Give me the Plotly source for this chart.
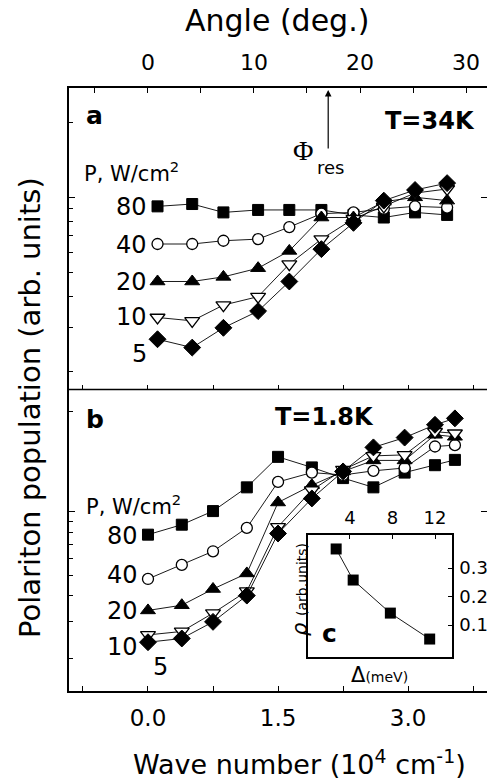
import plotly.graph_objects as go

# ---------------- data ----------------
# panel a (T=34K): wave number (1e4 cm^-1) and populations (arb. units)
k_a = [0.11, 0.51, 0.87, 1.27, 1.63, 2.00, 2.37, 2.72, 3.08, 3.45]
a_80 = [0.92, 0.94, 0.87, 0.89, 0.89, 0.89, 0.85, 0.83, 0.87, 0.85]
a_40 = [0.65, 0.65, 0.67, 0.68, 0.76, 0.86, 0.87, 0.90, 0.92, 0.91]
a_20 = [0.46, 0.46, 0.48, 0.52, 0.61, 0.83, 0.83, 0.96, 1.00, 0.97]
a_10 = [0.33, 0.32, 0.37, 0.40, 0.54, 0.68, 0.82, 0.92, 1.04, 1.08]
a_5 = [0.27, 0.25, 0.30, 0.35, 0.46, 0.62, 0.79, 0.97, 1.07, 1.14]

# panel b (T=1.8K)
k_b = [0.0, 0.39, 0.75, 1.14, 1.50, 1.89, 2.25, 2.60, 2.96, 3.31, 3.54]
b_80 = [0.78, 0.87, 1.01, 1.31, 1.83, 1.63, 1.45, 1.31, 1.54, 1.67, 1.77]
b_40 = [0.48, 0.56, 0.65, 0.84, 1.39, 1.54, 1.50, 1.57, 1.62, 2.05, 2.08]
b_20 = [0.34, 0.36, 0.43, 0.51, 1.11, 1.34, 1.56, 1.76, 1.76, 2.33, 2.28]
b_10 = [0.26, 0.27, 0.33, 0.42, 0.85, 1.27, 1.59, 1.85, 1.87, 2.41, 2.37]
b_5 = [0.24, 0.25, 0.30, 0.40, 0.79, 1.16, 1.56, 2.03, 2.26, 2.60, 2.79]

power_labels = ["80", "40", "20", "10", "5"]

# inset c
delta = [2.7, 4.3, 7.8, 11.5]
rho = [0.367, 0.258, 0.142, 0.051]

x_ticks = [0.0, 1.5, 3.0]
x_ticktext = ["0.0", "1.5", "3.0"]
x_minor = [-0.75, 0.75, 2.25, 3.75]
angle_ticks = [0, 10, 20, 30]
angle_minor = [-5, 5, 15, 25]
phi_res_angle = 17
inset_xticks = [4, 8, 12]
inset_yticks = [0.1, 0.2, 0.3]

FONT = "DejaVu Sans"
W, H = 487, 783
L, R, T, B = 69, 0, 88, 92


def px(x):
    return (x - L) / (W - L - R)


def py(y):
    return (H - B - y) / (H - T - B)


split = py(389.5)

styles = [
    dict(symbol="square", size=11, color="black", line=dict(color="black", width=1)),
    dict(symbol="circle", size=11, color="white", line=dict(color="black", width=1.3)),
    dict(symbol="triangle-up", size=13, color="black", line=dict(color="black", width=1)),
    dict(symbol="triangle-down", size=13, color="white", line=dict(color="black", width=1.3)),
    dict(symbol="diamond", size=13, color="black", line=dict(color="black", width=1)),
]

fig = go.Figure()

for ys, st in zip([a_80, a_40, a_20, a_10, a_5], styles):
    fig.add_trace(go.Scatter(x=k_a, y=ys, mode="lines+markers", xaxis="x2", yaxis="y2",
                             line=dict(color="black", width=0.9), marker=st,
                             showlegend=False, cliponaxis=False))
for ys, st in zip([b_80, b_40, b_20, b_10, b_5], styles):
    fig.add_trace(go.Scatter(x=k_b, y=ys, mode="lines+markers", xaxis="x", yaxis="y",
                             line=dict(color="black", width=0.9), marker=st,
                             showlegend=False, cliponaxis=False))

fig.add_trace(go.Scatter(x=delta, y=rho, mode="lines+markers", xaxis="x4", yaxis="y4",
                         line=dict(color="black", width=0.9),
                         marker=dict(symbol="square", size=11, color="black"),
                         showlegend=False, cliponaxis=False))

# empty traces to create overlay subplots
fig.add_trace(go.Scatter(x=[], y=[], xaxis="x3", yaxis="y2", showlegend=False))
fig.add_trace(go.Scatter(x=[], y=[], xaxis="x", yaxis="y3", showlegend=False))
fig.add_trace(go.Scatter(x=[], y=[], xaxis="x2", yaxis="y5", showlegend=False))

k_range = [-0.911, 3.910]
common_x = dict(range=k_range, showgrid=False, zeroline=False, showline=True,
                linecolor="black", linewidth=1.5, ticks="inside", ticklen=5,
                tickwidth=1.2, tickcolor="black", tickvals=x_ticks,
                minor=dict(tickvals=x_minor, ticks="inside", ticklen=5,
                           tickwidth=1.2, tickcolor="black"))

ya_range = [-0.77, 0.438]
yb_range = [-0.852, 0.583]
common_y = dict(type="log", showgrid=False, zeroline=False, showline=True,
                linecolor="black", linewidth=1.5, ticks="inside", ticklen=6,
                tickwidth=1.2, tickcolor="black", tickvals=[1], showticklabels=False)

fig.update_layout(
    width=W, height=H,
    margin=dict(l=L, r=R, t=T, b=B, pad=0),
    paper_bgcolor="white", plot_bgcolor="white",
    font=dict(family=FONT, color="black"),
    xaxis=dict(common_x, domain=[0, 1], anchor="y", ticktext=x_ticktext,
               tickfont=dict(size=23), ticklabelstandoff=6),
    xaxis2=dict(common_x, domain=[0, 1], anchor="y2", matches="x", showline=False,
                showticklabels=False),
    xaxis3=dict(range=[-7.45, 31.98], overlaying="x2", anchor="y2", side="top",
                showgrid=False, zeroline=False, showline=True, linecolor="black",
                linewidth=1.5, ticks="inside", ticklen=5, tickwidth=1.2,
                tickcolor="black", tickvals=angle_ticks, tickfont=dict(size=22),
                ticklabelstandoff=7,
                minor=dict(tickvals=angle_minor, ticks="inside", ticklen=5,
                           tickwidth=1.2, tickcolor="black")),
    yaxis=dict(common_y, domain=[0, split], anchor="x", range=yb_range,
               minor=dict(tickvals=[0.2, 0.3, 0.4, 0.5, 0.6, 0.7, 0.8, 0.9, 3],
                          ticks="inside", ticklen=4, tickwidth=1.2, tickcolor="black")),
    yaxis2=dict(common_y, domain=[split, 1], anchor="x2", range=ya_range,
                minor=dict(tickvals=[0.2, 0.3, 0.4, 0.5, 0.6, 0.7, 0.8, 0.9, 2],
                           ticks="inside", ticklen=4, tickwidth=1.2, tickcolor="black")),
    yaxis3=dict(type="log", overlaying="y", anchor="x", side="right", range=yb_range,
                showline=False, showgrid=False, zeroline=False, ticks="inside",
                ticklen=6, tickwidth=1.2, tickcolor="black", tickvals=[1],
                showticklabels=False),
    yaxis5=dict(type="log", overlaying="y2", anchor="x2", side="right", range=ya_range,
                showline=False, showgrid=False, zeroline=False, ticks="inside",
                ticklen=6, tickwidth=1.2, tickcolor="black", tickvals=[1],
                showticklabels=False),
    xaxis4=dict(domain=[px(308), px(452)], anchor="y4", side="top", range=[0.05, 13.6],
                showgrid=False, zeroline=False, showline=True, mirror=True,
                linecolor="black", linewidth=1.5, ticks="inside", ticklen=4,
                tickwidth=1, tickcolor="black", tickvals=inset_xticks,
                tickfont=dict(size=18), ticklabelstandoff=2),
    yaxis4=dict(domain=[py(657), py(535)], anchor="x4", side="right", range=[-0.012, 0.416],
                showgrid=False, zeroline=False, showline=True, mirror=True,
                linecolor="black", linewidth=1.5, ticks="inside", ticklen=4,
                tickwidth=1, tickcolor="black", tickvals=inset_yticks,
                tickfont=dict(size=18), ticklabelstandoff=2),
    shapes=[dict(type="line", xref="paper", yref="paper", x0=0, x1=1, y0=split, y1=split,
                 line=dict(color="black", width=1.4), layer="above")],
)

ann = []


def text(x, y, s, size, bold=False, family=FONT, xanchor="center", angle=0):
    if bold:
        s = "<b>" + s + "</b>"
    ann.append(dict(x=px(x), y=py(y), xref="paper", yref="paper", text=s,
                    showarrow=False, xanchor=xanchor, yanchor="middle",
                    textangle=angle, font=dict(size=size, family=family, color="black")))


# axis titles
text(277, 21, "Angle (deg.)", 30)
text(299, 762, "Wave number (10<sup>4</sup> cm<sup>-1</sup>)", 27)
text(30, 408, "Polariton population (arb. units)", 29, angle=-90)

# panel a
text(94, 115, "a", 25, bold=True)
text(430, 121, "T=34K", 24, bold=True)
text(303, 151, "Φ", 28, family="Liberation Serif")
text(330, 168, "res", 18)
text(82, 172, "P, W/cm<sup>2</sup>", 21, xanchor="left")
for lab, yy, xx in zip(power_labels, [207, 245, 282, 317, 354], [131, 131, 131, 131, 139]):
    text(xx, yy, lab, 24)

# panel b
text(95, 419, "b", 25, bold=True)
text(324, 417, "T=1.8K", 24, bold=True)
text(84, 505, "P, W/cm<sup>2</sup>", 21, xanchor="left")
for lab, yy, xx in zip(power_labels, [536, 575, 611, 647, 667], [122, 122, 122, 122, 160]):
    text(xx, yy, lab, 24)

# inset labels
text(329, 633, "c", 25, bold=True)
text(300, 590, "<i>ρ</i> <span style='font-size:14px'>(arb.units)</span>", 21, angle=-90)
text(379, 675, "Δ<span style='font-size:14px'>(meV)</span>", 21)

# Phi_res arrow
ann.append(dict(x=phi_res_angle, y=py(90), xref="x3", yref="paper", text="",
                showarrow=True, ax=0, ay=60, arrowhead=2, arrowsize=1.1,
                arrowwidth=1.2, arrowcolor="black", standoff=0, startstandoff=0))

fig.update_layout(annotations=ann)

fig.write_html("out.html", config={"displayModeBar": False},
               post_script="document.body.style.margin='0';document.body.style.overflow='hidden';")
